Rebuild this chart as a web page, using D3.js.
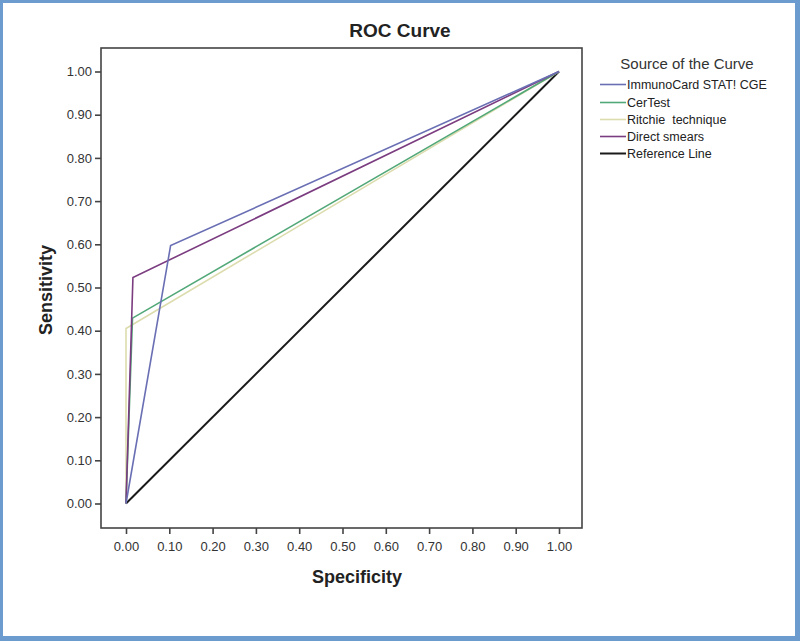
<!DOCTYPE html>
<html><head><meta charset="utf-8">
<script src="https://cdn.jsdelivr.net/npm/d3@7"></script>
<style>body{margin:0;background:#fff}svg{display:block}text{font-family:Arial,"Liberation Sans",sans-serif}</style>
</head><body>
<svg id="c" width="800" height="641"></svg>
<script>
const seriesNames = ["ImmunoCard STAT! CGE", "CerTest", "Ritchie  technique", "Direct smears", "Reference Line"];
const seriesColors = ["#6a6fb4", "#52a878", "#dcdcae", "#7b3c80", "#1a1a1a"];
const immunoX = [0, 0.103, 1], immunoY = [0, 0.597, 1];
const certestX = [0, 0.015, 1], certestY = [0, 0.429, 1];
const ritchieX = [0, 0.0, 1], ritchieY = [0, 0.405, 1];
const directX = [0, 0.016, 1], directY = [0, 0.523, 1];
const refX = [0, 1], refY = [0, 1];
const tickValues = [0, 0.1, 0.2, 0.3, 0.4, 0.5, 0.6, 0.7, 0.8, 0.9, 1.0];

const svg = d3.select("#c");
// outer blue frame
svg.append("rect").attr("x", 1.5).attr("y", 1.5).attr("width", 796).attr("height", 637)
  .attr("fill", "#fff").attr("stroke", "#6c9bd0").attr("stroke-width", 3);
svg.append("rect").attr("x", 795).attr("y", 0).attr("width", 5).attr("height", 641).attr("fill", "#6c9bd0");
svg.append("rect").attr("x", 0).attr("y", 636).attr("width", 800).attr("height", 5).attr("fill", "#6c9bd0");

const x = d3.scaleLinear().domain([0, 1]).range([126, 559]);
const y = d3.scaleLinear().domain([0, 1]).range([503.5, 71.5]);
const frame = {l: 101, t: 48, r: 582, b: 528};

// plot frame
svg.append("rect").attr("x", frame.l).attr("y", frame.t).attr("width", frame.r - frame.l).attr("height", frame.b - frame.t)
  .attr("fill", "none").attr("stroke", "#444").attr("stroke-width", 1.6);

const yAxis = d3.axisLeft(y).tickValues(tickValues).tickFormat(d3.format(".2f")).tickSize(6).tickPadding(3);
const gy = svg.append("g").attr("transform", `translate(${frame.l},0)`).call(yAxis);
const xAxis = d3.axisBottom(x).tickValues(tickValues).tickFormat(d3.format(".2f")).tickSize(6).tickPadding(8);
const gx = svg.append("g").attr("transform", `translate(0,${frame.b})`).call(xAxis);
[gy, gx].forEach(g => {
  g.select(".domain").remove();
  g.selectAll(".tick line").attr("stroke", "#444").attr("stroke-width", 1.6);
  g.selectAll(".tick text").attr("fill", "#333").style("font-size", "13px").style("font-family", "Arial, 'Liberation Sans', sans-serif");
});

const line = d3.line().x(d => x(d[0])).y(d => y(d[1]));
const data = [
  [refX, refY, 4, 2],
  [ritchieX, ritchieY, 2, 1.6],
  [certestX, certestY, 1, 1.6],
  [directX, directY, 3, 1.6],
  [immunoX, immunoY, 0, 1.6]
];
data.forEach(([xs, ys, ci, w]) => {
  svg.append("path").datum(xs.map((v, i) => [v, ys[i]])).attr("d", line)
    .attr("fill", "none").attr("stroke", seriesColors[ci]).attr("stroke-width", w).attr("stroke-linejoin", "miter");
});

// titles
svg.append("text").attr("x", 400).attr("y", 37).attr("text-anchor", "middle")
  .style("font-size", "19px").style("font-weight", "bold").attr("fill", "#222").text("ROC Curve");
svg.append("text").attr("x", 357).attr("y", 583).attr("text-anchor", "middle")
  .style("font-size", "18px").style("font-weight", "bold").attr("fill", "#222").text("Specificity");
svg.append("text").attr("transform", "translate(52,290) rotate(-90)").attr("text-anchor", "middle")
  .style("font-size", "18px").style("font-weight", "bold").attr("fill", "#222").text("Sensitivity");

// legend
svg.append("text").attr("x", 687).attr("y", 69).attr("text-anchor", "middle")
  .style("font-size", "15px").attr("fill", "#333").text("Source of the Curve");
const rowsY = [89, 107, 124, 141, 158];
seriesNames.forEach((n, i) => {
  svg.append("line").attr("x1", 600).attr("x2", 626).attr("y1", rowsY[i] - 4.5).attr("y2", rowsY[i] - 4.5)
    .attr("stroke", seriesColors[i]).attr("stroke-width", i === 4 ? 2 : 1.6);
  svg.append("text").attr("x", 627).attr("y", rowsY[i]).style("font-size", "12.5px").style("white-space", "pre")
    .attr("fill", "#222").text(n);
});
</script>
</body></html>
